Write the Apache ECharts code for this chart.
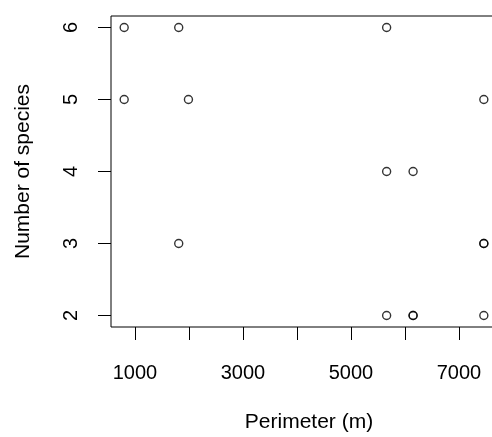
<!DOCTYPE html>
<html>
<head>
<meta charset="utf-8">
<script src="https://cdn.jsdelivr.net/npm/echarts@6/dist/echarts.min.js"></script>
<style>
  html, body { margin: 0; padding: 0; background: #fff; }
  #chart { width: 492px; height: 437px; }
</style>
</head>
<body>
<div id="chart"></div>
<script>
// Perimeter of each site (m) and the number of species recorded there
const perimeter = [800, 1810, 5660, 800, 1990, 7460, 5660, 6150, 1810, 7460, 7460, 5660, 6150, 6150, 7460];
const species   = [6, 6, 6, 5, 5, 5, 4, 4, 3, 3, 3, 2, 2, 2, 2];

const xTicks = [1000, 2000, 3000, 4000, 5000, 6000, 7000];
const xTickLabels = [1000, 3000, 5000, 7000];
const yTicks = [2, 3, 4, 5, 6];

const FONT = 'Liberation Sans, Arial, sans-serif';
const TICK_FONT_SIZE = 20;
const NAME_FONT_SIZE = 21;

const chart = echarts.init(document.getElementById('chart'), null, { renderer: 'canvas' });
chart.setOption({
  animation: false,
  backgroundColor: '#fff',
  grid: {
    left: 111, top: 16, width: 396, height: 311,
    outerBoundsMode: 'none',
    containLabel: false,
    show: true, borderColor: '#000', borderWidth: 1, backgroundColor: 'transparent'
  },
  xAxis: {
    type: 'value',
    min: 556, max: 7889,
    name: 'Perimeter (m)',
    nameLocation: 'middle',
    nameGap: 85,
    nameTextStyle: { fontFamily: FONT, fontSize: NAME_FONT_SIZE, color: '#000' },
    axisLine: { show: false },
    splitLine: { show: false },
    axisTick: { show: true, inside: false, length: 13, customValues: xTicks,
                lineStyle: { color: '#000', width: 1 } },
    axisLabel: { customValues: xTickLabels, margin: 36, fontFamily: FONT, fontSize: TICK_FONT_SIZE,
                 color: '#000', formatter: v => String(v) }
  },
  yAxis: {
    type: 'value',
    min: 1.84, max: 6.16,
    name: 'Number of species',
    nameLocation: 'middle',
    nameGap: 77,
    nameRotate: 90,
    nameTextStyle: { fontFamily: FONT, fontSize: NAME_FONT_SIZE, color: '#000' },
    axisLine: { show: false },
    splitLine: { show: false },
    axisTick: { show: true, inside: false, length: 13, customValues: yTicks,
                lineStyle: { color: '#000', width: 1 } },
    axisLabel: { customValues: yTicks, rotate: 90, margin: 30, fontFamily: FONT, fontSize: TICK_FONT_SIZE,
                 color: '#000', formatter: v => String(v) }
  },
  series: [{
    type: 'scatter',
    data: perimeter.map((p, i) => [p, species[i]]),
    symbol: 'circle',
    symbolSize: 8,
    itemStyle: { color: 'rgba(255,255,255,0)', borderColor: '#000', borderWidth: 1.4 }
  }]
});
</script>
</body>
</html>
